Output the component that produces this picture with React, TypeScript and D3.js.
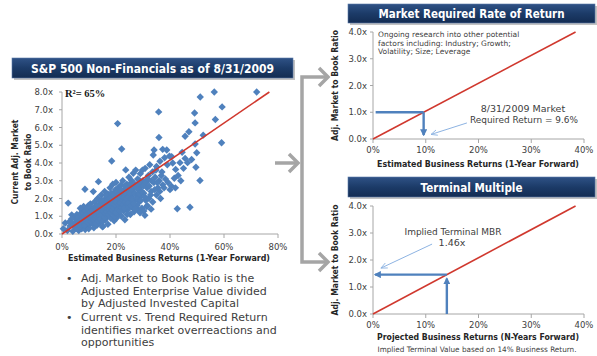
import React from "react";
import * as d3 from "d3";

// ---------- DATA ----------
// scatter: [estimated business return %, current adj. market-to-book ratio]
const scatterPoints: [number, number][] = [
  [0.5,0.3],[1.2,0.62],[2.3,1.74],[3.6,1.08],[2,0.2],[3,0.45],[4,0.15],[4.5,0.6],[5,0.35],[4.8,0.9],[5.5,1.1],[3.5,0.85],[6,0.5],[6.2,0.2],[2.8,0.7],
  [6.5,0.8],[7,1.0],[7.2,0.55],[7.5,1.3],[7.8,0.7],[8,0.4],[8,1.55],[8.5,2.52],[8.3,1.1],[8.8,0.85],[9,0.6],[9.2,1.25],[9.5,1.0],[9.5,0.45],[9.8,1.6],[10,0.8],[10,1.35],[6.8,1.45],[7.3,0.3],[5.8,0.75],[8.6,0.25],[9.9,0.3],
  [10.2,1.05],[10.3,0.55],[10.5,1.7],[10.8,0.9],[11,1.2],[11.2,0.6],[11.5,1.45],[11.6,2.39],[11.8,0.35],[12,1.0],[12,1.8],[12.3,0.75],[12.5,1.3],[12.8,1.55],[13,0.5],[13,1.1],[13.2,2.0],[13.5,2.95],[13.5,0.9],[13.8,1.4],[14,0.65],[14,1.7],[14.3,1.2],[14.5,2.2],[14.7,0.95],
  [15,1.5],[15,0.4],[15.2,0.43],[15.2,1.85],[15.5,1.1],[15.8,2.4],[16,0.8],[16,1.35],[16.2,2.0],[16.5,1.6],[16.8,1.0],[17,2.25],[17,0.55],[17.3,1.75],[17.5,1.25],[17.8,2.6],[18,1.45],[18,0.9],[18.4,4.11],[18.3,2.05],[18.5,1.6],[18.8,2.8],[19,1.2],[19,2.3],[19.3,0.75],[19.5,1.85],[19.8,2.5],
  [20,1.4],[20,2.9],[20.2,0.9],[20.3,1.65],[20.6,6.22],[20.5,2.1],[20.8,2.6],[21,1.15],[21,1.9],[21.3,2.4],[21.5,1.5],[21.8,2.75],[22,1.0],[22.1,4.79],[22,2.2],[22.3,1.75],[22.5,3.0],[22.8,1.3],[23,2.5],[23,1.9],[23.3,0.8],[23.6,3.61],[23.5,2.15],[23.8,1.6],[24,2.8],[24.3,1.35],[24.5,2.4],[24.8,3.2],
  [25,1.8],[25,2.6],[25.3,1.1],[25.5,2.1],[25.8,3.0],[26,1.5],[26.4,3.42],[26.3,2.35],[26.7,1.25],[27,2.8],[27,1.9],[27.3,3.6],[27.5,2.2],[27.8,1.6],[28,3.1],[28.3,1.36],[28.3,2.5],[28.6,1.8],[29,3.4],[29,2.1],[29.3,2.7],[29.6,1.45],
  [30,3.0],[30.4,2.86],[30.3,2.3],[30.7,1.05],[30.8,3.7],[31,1.9],[31.4,1.55],[31.5,2.6],[32,3.3],[32.2,2.0],[32.5,3.9],[33,2.4],[33,1.4],[33.5,3.5],[33.8,4.45],[34,2.9],[34.1,4.73],[34.5,3.2],[35,2.2],[35,3.8],[35.5,2.6],[35.8,6.88],[35.9,5.44],[36,3.0],[36.3,4.1],[36.5,2.0],[37,3.5],[37.3,2.77],[37.3,4.77],[37.8,2.6],[38,4.3],[38.3,3.1],[38.8,4.73],[39,3.9],[39.3,2.9],[39.8,4.39],
  [40,2.5],[40.6,4.36],[40.5,2.7],[41,4.0],[41.6,3.14],[42,2.6],[42.1,3.64],[42.7,1.42],[43,3.3],[43.7,4.02],[44,3.0],[44.5,4.6],[45,3.7],[45.6,4.26],[45.6,5.51],[46.5,4.02],[47,5.76],[47.4,1.51],[48,4.2],[49.1,6.82],[49.3,6.26],[49.3,5.07],[49.6,3.76],[49.9,4.58],[51.1,3.01],[51.2,7.72],[52.3,5.57],[56.4,8.0],[56.8,6.45],[59.1,5.14],[59.3,7.16],[72.1,8.0],
  [5.2,0.55],[5.6,0.3],[6,0.95],[6.3,0.65],[6.6,0.4],[6.9,1.15],[7.1,0.8],[7.4,0.5],[7.6,0.95],[7.9,1.2],[8.1,0.7],[8.2,0.95],[8.4,0.5],[8.7,1.3],[8.9,1.05],[9.1,0.75],[9.3,0.9],[9.4,1.45],[9.6,0.65],[9.7,1.15],
  [10.1,0.95],[10.4,1.25],[10.6,0.7],[10.7,1.5],[10.9,1.1],[11.1,0.85],[11.3,1.35],[11.4,1.0],[11.7,0.8],[11.9,1.25],[12.1,1.5],[12.2,0.9],[12.4,1.15],[12.6,0.6],[12.7,1.4],[12.9,1.0],[13.1,1.25],[13.3,1.6],[13.4,0.75],[13.6,1.2],[13.7,1.9],[13.9,1.0],
  [14.1,1.45],[14.2,0.85],[14.4,1.6],[14.6,1.3],[14.8,1.9],[14.9,1.1],[15.1,0.7],[15.3,1.3],[15.4,1.65],[15.6,1.4],[15.7,0.95],[15.9,1.75],[16.1,1.15],[16.3,1.5],[16.4,2.15],[16.6,1.25],[16.7,1.8],[16.9,1.45],[17.1,1.95],[17.2,1.1],[17.4,1.55],[17.6,2.0],[17.7,1.35],[17.9,1.8],
  [18.1,1.2],[18.2,2.3],[18.6,1.95],[18.7,1.35],[18.9,1.7],[19.1,2.15],[19.2,1.5],[19.4,1.0],[19.6,1.65],[19.7,2.05],[19.9,1.2],[20.1,1.8],[20.4,2.35],[20.7,1.4],[20.9,2.0],[21.1,1.65],[21.2,2.25],[21.4,1.3],[21.6,2.05],[21.7,1.75],[21.9,2.45],
  [22.2,1.5],[22.4,1.95],[22.6,2.3],[22.7,1.65],[22.9,2.05],[23.1,1.45],[23.2,2.7],[23.4,1.8],[23.7,2.3],[23.9,2.0],[24.1,1.1],[24.2,2.55],[24.4,1.75],[24.6,2.1],[24.9,1.5],[25.2,2.3],[25.4,2.85],[25.6,1.6],[25.7,2.0],[26.1,2.5],[26.2,1.95],[26.5,2.7],[26.6,1.7],[26.9,2.3],
  [27.2,1.4],[27.6,2.6],[27.9,2.0],[28.1,2.8],[28.5,2.25],[28.8,3.0],[29.2,1.9],[29.5,2.4],[29.8,3.6],[30.1,2.7],[30.6,2.1],[31.2,2.9],[31.8,3.1],[32.3,2.7],[32.8,2.2],[33.2,3.0],[34.3,2.5],[34.8,3.6],[35.3,2.9],[36.2,2.4],[36.8,3.3],[33.6,1.8],[31.6,1.6],[30.3,1.3],[28.9,1.2]
];
const trendLine: [number, number][] = [[0, 0], [0.768, 8.0]];
const leftXTicks = [0, 0.2, 0.4, 0.6, 0.8];
const leftYTicks = [0, 1, 2, 3, 4, 5, 6, 7, 8];

const requiredLine: [number, number][] = [[0, 0], [0.384, 4.0]];
const rightXTicks = [0, 0.1, 0.2, 0.3, 0.4];
const rightYTicks = [0, 1, 2, 3, 4];
const marketReturn = 0.096;
const marketMBR = 1.0;
const terminalReturn = 0.14;
const terminalMBR = 1.46;

const leftTitle = "S&P 500 Non-Financials as of 8/31/2009";
const topTitle = "Market Required Rate of Return";
const bottomTitle = "Terminal Multiple";
const noteLines = [
  "Ongoing research into other potential",
  "factors including: Industry; Growth;",
  "Volatility; Size;  Leverage",
];
const bullets = [
  ["Adj. Market to Book Ratio is the", "Adjusted Enterprise Value divided", "by Adjusted Invested Capital"],
  ["Current vs. Trend Required Return", "identifies market overreactions and", "opportunities"],
];

// ---------- STYLE ----------
const FONT = "Tahoma, 'DejaVu Sans', Verdana, sans-serif";
const BLUE = "#4f81bd";
const RED = "#d0382e";
const AXIS = "#a6a6a6";
const TXT = "#404040";
const GRAY = "#a5a5a5";

const pctFmt = d3.format(".0%");
const xFmt = (v: number) => d3.format(".1f")(v) + "x";

function Banner({ x, y, w, h, text, size, tl }: any) {
  return (
    <g>
      <rect x={x + 2} y={y + 2} width={w} height={h} fill="#9a9a9a" opacity={0.6} />
      <rect x={x} y={y} width={w} height={h} fill="url(#bannerGrad)" stroke="#5a7aa8" strokeWidth={0.6} />
      <text x={x + w / 2} y={y + h / 2 + size * 0.36} textAnchor="middle" fill="#fff" fontFamily={FONT}
        fontWeight="bold" fontSize={size} textLength={tl} lengthAdjust="spacingAndGlyphs">{text}</text>
    </g>
  );
}

function Chevron({ x, y }: { x: number; y: number }) {
  return <path d={`M${x - 9},${y - 9} L${x},${y} L${x - 9},${y + 9}`} fill="none" stroke={GRAY} strokeWidth={3.5} strokeLinejoin="miter" />;
}

export default function App() {
  // left scatter chart
  const lx = d3.scaleLinear().domain([0, 0.8]).range([62, 278]);
  const ly = d3.scaleLinear().domain([0, 8]).range([234, 92]);
  const diamond = (r: number) => `M0,${-r}L${r},0L0,${r}L${-r},0Z`;
  const line = (sx: any, sy: any) => d3.line<[number, number]>().x(d => sx(d[0])).y(d => sy(d[1]));

  // right charts
  const rx = d3.scaleLinear().domain([0, 0.4]).range([373, 584]);
  const ty = d3.scaleLinear().domain([0, 4]).range([139, 32]);
  const by = d3.scaleLinear().domain([0, 4]).range([314, 206]);

  const rightAxes = (sy: any, xLabel: string, xLabelY: number, yLabelX: number) => {
    const y0 = sy(0);
    const yMid = (sy(0) + sy(4)) / 2;
    return (
      <g>
        <line x1={rx(0)} x2={rx(0)} y1={sy(4)} y2={y0} stroke={AXIS} />
        <line x1={rx(0)} x2={rx(0.4)} y1={y0} y2={y0} stroke={AXIS} />
        {rightYTicks.map(t => (
          <g key={"y" + t}>
            <line x1={rx(0) - 3} x2={rx(0)} y1={sy(t)} y2={sy(t)} stroke={AXIS} />
            <text x={rx(0) - 6} y={sy(t) + 3} textAnchor="end" fontSize={8.5} fontFamily={FONT} fill={TXT}>{xFmt(t)}</text>
          </g>
        ))}
        {rightXTicks.map(t => (
          <g key={"x" + t}>
            <line x1={rx(t)} x2={rx(t)} y1={y0} y2={y0 + 4} stroke={AXIS} />
            <text x={rx(t)} y={y0 + 14} textAnchor="middle" fontSize={8.5} fontFamily={FONT} fill={TXT}>{pctFmt(t)}</text>
          </g>
        ))}
        <text x={478} y={xLabelY} textAnchor="middle" fontSize={8.5} fontWeight="bold" fontFamily={FONT} fill="#262626"
          textLength={202} lengthAdjust="spacingAndGlyphs">{xLabel}</text>
        <text transform={`translate(${yLabelX},${yMid}) rotate(-90)`} textAnchor="middle" fontSize={8.5} fontWeight="bold"
          fontFamily={FONT} fill="#262626" textLength={111} lengthAdjust="spacingAndGlyphs">Adj. Market to Book Ratio</text>
        <path d={line(rx, sy)(requiredLine) || ""} stroke={RED} strokeWidth={1.6} fill="none" />
      </g>
    );
  };

  return (
    <svg width={597} height={356} style={{ position: "absolute", left: 0, top: 0, background: "#fff" }}>
      <defs>
        <linearGradient id="bannerGrad" x1="0" y1="0" x2="0" y2="1">
          <stop offset="0" stopColor="#2f5286" />
          <stop offset="0.5" stopColor="#1c3b68" />
          <stop offset="1" stopColor="#132c52" />
        </linearGradient>
        <marker id="blueHead" viewBox="0 0 10 10" refX="8" refY="5" markerWidth="3" markerHeight="3" orient="auto" markerUnits="strokeWidth">
          <path d="M0,0L10,5L0,10Z" fill={BLUE} />
        </marker>
        <marker id="thinHead" viewBox="0 0 10 10" refX="9" refY="5" markerWidth="7" markerHeight="7" orient="auto" markerUnits="userSpaceOnUse">
          <path d="M0,1L9,5L0,9" fill="none" stroke="#8db3e2" strokeWidth={1.2} />
        </marker>
      </defs>

      {/* ---------- LEFT CHART ---------- */}
      <Banner x={12} y={58} w={281} h={20} text={leftTitle} size={12.5} tl={243} />
      <line x1={lx(0)} x2={lx(0)} y1={ly(8)} y2={ly(0)} stroke={AXIS} />
      <line x1={lx(0)} x2={lx(0.8)} y1={ly(0)} y2={ly(0)} stroke={AXIS} />
      {leftYTicks.map(t => (
        <g key={"ly" + t}>
          <line x1={lx(0) - 3} x2={lx(0)} y1={ly(t)} y2={ly(t)} stroke={AXIS} />
          <text x={lx(0) - 9} y={ly(t) + 3} textAnchor="end" fontSize={8.5} fontFamily={FONT} fill={TXT}>{xFmt(t)}</text>
        </g>
      ))}
      {leftXTicks.map(t => (
        <g key={"lx" + t}>
          <line x1={lx(t)} x2={lx(t)} y1={ly(0)} y2={ly(0) + 4} stroke={AXIS} />
          <text x={lx(t)} y={ly(0) + 16} textAnchor="middle" fontSize={8.5} fontFamily={FONT} fill={TXT}>{pctFmt(t)}</text>
        </g>
      ))}
      <text x={169} y={261} textAnchor="middle" fontSize={8.5} fontWeight="bold" fontFamily={FONT} fill="#262626"
        textLength={202} lengthAdjust="spacingAndGlyphs">Estimated Business Returns (1-Year Forward)</text>
      <text transform={`translate(18,162) rotate(-90)`} textAnchor="middle" fontSize={8.5} fontWeight="bold" fontFamily={FONT}
        fill="#262626" textLength={85} lengthAdjust="spacingAndGlyphs">Current Adj. Market</text>
      <text transform={`translate(31,162) rotate(-90)`} textAnchor="middle" fontSize={8.5} fontWeight="bold" fontFamily={FONT}
        fill="#262626" textLength={57} lengthAdjust="spacingAndGlyphs">to Book Ratio</text>
      <text x={65} y={97} fontSize={10.5} fontWeight="bold" fontFamily="'Liberation Serif', 'DejaVu Serif', serif" fill="#1a1a1a">R²= 65%</text>
      <g>
        {scatterPoints.map((p, i) => (
          <path key={i} d={diamond(3.7)} transform={`translate(${lx(p[0] / 100)},${ly(p[1])})`} fill={BLUE} />
        ))}
      </g>
      <path d={line(lx, ly)(trendLine) || ""} stroke={RED} strokeWidth={1.6} fill="none" />

      {/* bullets */}
      {bullets.map((b, bi) => (
        <g key={"b" + bi}>
          <text x={66} y={282 + bi * 39} fontSize={11} fontFamily={FONT} fill={TXT}>•</text>
          {b.map((l, li) => (
            <text key={li} x={81} y={282 + bi * 39 + li * 12.5} fontSize={11} fontFamily={FONT} fill={TXT}>{l}</text>
          ))}
        </g>
      ))}

      {/* gray connector arrows */}
      <line x1={275} x2={297} y1={163} y2={163} stroke={GRAY} strokeWidth={3.5} />
      <Chevron x={298} y={163} />
      <path d="M327,77 L302,77 L302,262 L327,262" fill="none" stroke={GRAY} strokeWidth={3.5} />
      <Chevron x={328} y={77} />
      <Chevron x={328} y={262} />

      {/* ---------- TOP RIGHT ---------- */}
      <Banner x={348} y={4} w={247} h={19} text={topTitle} size={12} tl={186} />
      {rightAxes(ty, "Estimated Business Returns (1-Year Forward)", 167, 338)}
      {noteLines.map((l, i) => (
        <text key={i} x={378} y={37 + i * 8.5} fontSize={7.5} fontFamily={FONT} fill={TXT}>{l}</text>
      ))}
      <line x1={rx(0.005)} x2={rx(marketReturn)} y1={ty(marketMBR)} y2={ty(marketMBR)} stroke={BLUE} strokeWidth={2.4} />
      <line x1={rx(marketReturn)} x2={rx(marketReturn)} y1={ty(marketMBR)} y2={ty(0) - 4} stroke={BLUE} strokeWidth={2.4} markerEnd="url(#blueHead)" />
      <text x={523} y={112} textAnchor="middle" fontSize={9.5} fontFamily={FONT} fill={TXT}>8/31/2009 Market</text>
      <text x={524} y={123} textAnchor="middle" fontSize={9.5} fontFamily={FONT} fill={TXT} textLength={108} lengthAdjust="spacingAndGlyphs">Required Return = 9.6%</text>
      <line x1={rx(0.178)} y1={ty(0.6)} x2={rx(0.11)} y2={ty(0.17)} stroke="#8db3e2" strokeWidth={1} markerEnd="url(#thinHead)" />

      {/* ---------- BOTTOM RIGHT ---------- */}
      <Banner x={348} y={177} w={247} h={20} text={bottomTitle} size={12.5} tl={102} />
      {rightAxes(by, "Projected Business Returns (N-Years Forward)", 340, 338)}
      <line x1={rx(terminalReturn)} x2={rx(terminalReturn)} y1={by(0)} y2={by(terminalMBR) + 4} stroke={BLUE} strokeWidth={2.4} markerEnd="url(#blueHead)" />
      <line x1={rx(terminalReturn)} x2={rx(0.004)} y1={by(terminalMBR)} y2={by(terminalMBR)} stroke={BLUE} strokeWidth={2.4} markerEnd="url(#blueHead)" />
      <text x={453} y={235} textAnchor="middle" fontSize={9.5} fontFamily={FONT} fill={TXT} textLength={97} lengthAdjust="spacingAndGlyphs">Implied Terminal MBR</text>
      <text x={452} y={246} textAnchor="middle" fontSize={9.5} fontFamily={FONT} fill={TXT}>{d3.format(".2f")(terminalMBR) + "x"}</text>
      <line x1={rx(0.112)} y1={by(2.59)} x2={rx(0.015)} y2={by(1.70)} stroke="#8db3e2" strokeWidth={1} markerEnd="url(#thinHead)" />
      <text x={477} y={352} textAnchor="middle" fontSize={7.5} fontFamily={FONT} fill={TXT} textLength={199} lengthAdjust="spacingAndGlyphs">
        Implied Terminal Value based on 14% Business Return.
      </text>
    </svg>
  );
}
